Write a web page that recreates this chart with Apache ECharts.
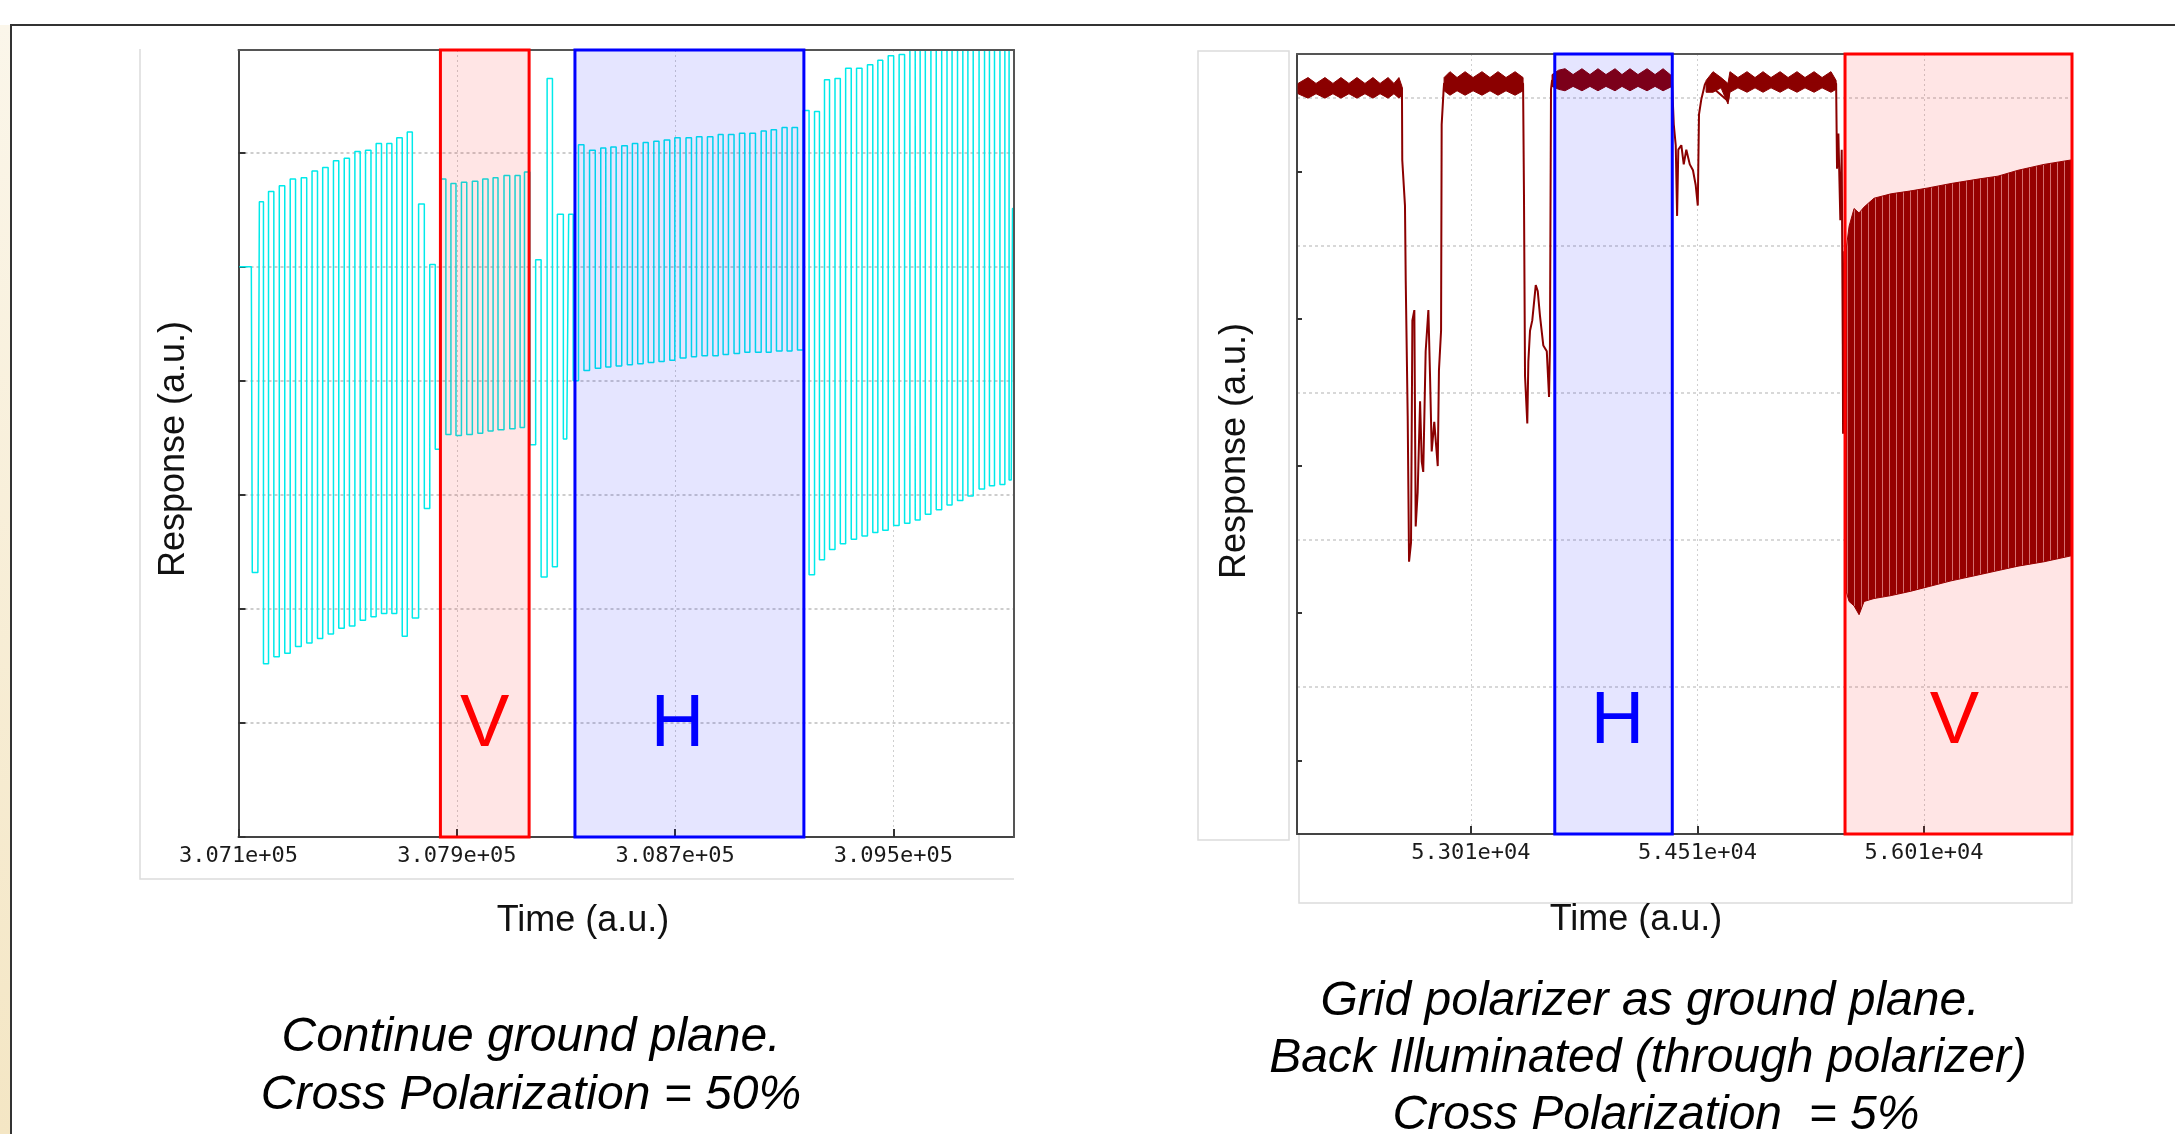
<!DOCTYPE html>
<html>
<head>
<meta charset="utf-8">
<title>Cross polarization response</title>
<script src="https://cdn.jsdelivr.net/npm/echarts@6/dist/echarts.min.js"></script>
<style>
  html, body { margin: 0; padding: 0; background: #fff; }
  #chart { width: 2175px; height: 1134px; }
</style>
</head>
<body>
<div id="chart"></div>
<script>
// ---- left panel: continue ground plane (turning points of the cyan trace)
const cyanTime = [
  307103, 307147, 307154, 307171, 307182, 307201, 307219, 307240, 307259, 307280,
  307299, 307319, 307341, 307359, 307380, 307399, 307418, 307439, 307457, 307478,
  307497, 307516, 307537, 307555, 307576, 307595, 307614, 307634, 307653, 307671,
  307689, 307711, 307726, 307748, 307772, 307790, 307812, 307830, 307850, 307870,
  307887, 307907, 307927, 307946, 307968, 307986, 308004, 308025, 308041, 308061,
  308085, 308103, 308124, 308140, 308156, 308180, 308198, 308220, 308242, 308259,
  308278, 308303, 308317, 308336, 308356, 308376, 308397, 308418, 308437, 308455,
  308474, 308494, 308515, 308535, 308552, 308574, 308592, 308611, 308633, 308649,
  308671, 308690, 308708, 308729, 308751, 308769, 308788, 308809, 308828, 308849,
  308867, 308885, 308906, 308926, 308946, 308965, 308983, 309006, 309025, 309043,
  309061, 309082, 309102, 309119, 309138, 309159, 309180, 309202, 309220, 309238,
  309257, 309275, 309297, 309314, 309336, 309355, 309375, 309395, 309415, 309434,
  309452, 309470, 309492, 309510, 309532, 309550, 309571, 309589, 309607, 309627,
  309648, 309666, 309688, 309705, 309725, 309745, 309764, 309782, 309803, 309825,
  309843, 309861, 309880, 309901, 309916, 309932, 309941
];
const cyanResp = [
  5.00, 5.00, 2.32, 2.32, 5.57, 1.52, 5.66, 1.58, 5.71, 1.61,
  5.77, 1.67, 5.78, 1.70, 5.84, 1.74, 5.87, 1.78, 5.93, 1.83,
  5.95, 1.85, 6.01, 1.90, 6.02, 1.93, 6.08, 1.96, 6.08, 1.96,
  6.13, 1.76, 6.18, 1.92, 5.55, 2.88, 5.02, 3.40, 5.77, 3.53,
  5.73, 3.52, 5.74, 3.53, 5.75, 3.54, 5.77, 3.56, 5.78, 3.57,
  5.80, 3.58, 5.80, 3.59, 5.83, 3.44, 5.06, 2.28, 6.65, 2.37,
  5.46, 3.49, 5.46, 4.00, 6.07, 4.09, 6.02, 4.11, 6.04, 4.12,
  6.05, 4.13, 6.06, 4.14, 6.08, 4.15, 6.09, 4.16, 6.10, 4.17,
  6.11, 4.18, 6.13, 4.20, 6.13, 4.21, 6.14, 4.22, 6.14, 4.22,
  6.16, 4.23, 6.16, 4.24, 6.17, 4.25, 6.17, 4.25, 6.19, 4.25,
  6.20, 4.26, 6.22, 4.26, 6.22, 4.27, 6.37, 2.30, 6.36, 2.43,
  6.64, 2.52, 6.65, 2.57, 6.74, 2.61, 6.74, 2.64, 6.77, 2.67,
  6.81, 2.69, 6.85, 2.73, 6.86, 2.75, 7.00, 2.78, 7.00, 2.83,
  7.05, 2.87, 7.05, 2.91, 7.10, 2.95, 7.10, 2.99, 7.10, 3.05,
  7.15, 3.08, 7.15, 3.09, 7.15, 3.13, 5.51
];
const leftTickValues = [307100, 307900, 308700, 309500];
const leftTickLabels = ['3.071e+05', '3.079e+05', '3.087e+05', '3.095e+05'];
const leftBandV = [307840, 308165];
const leftBandH = [308333, 309172];

// ---- right panel: grid polarizer as ground plane (thin trace)
const redTime = [
  51865, 52553, 52555, 52573, 52578, 52591, 52600, 52613, 52622, 52635,
  52644, 52657, 52673, 52684, 52694, 52710, 52728, 52739, 52750, 52767,
  52790, 52798, 52812, 52816, 52829, 52832, 53355, 53361, 53368, 53383,
  53390, 53401, 53416, 53439, 53452, 53467, 53489, 53512, 53527, 53533,
  53540, 53547, 54341, 54353, 54366, 54375, 54383, 54403, 54419, 54436,
  54459, 54480, 54498, 54512, 54520, 54535, 54558, 54567, 54712, 54725,
  55428, 55434, 55443, 55456, 55465, 55472, 55474, 55483, 55494
];
const redResp = [
  5.07, 5.07, 4.58, 4.27, 3.76, 2.84, 1.85, 1.98, 3.49, 3.56,
  2.09, 2.32, 2.94, 2.53, 2.46, 3.28, 3.56, 3.11, 2.60, 2.80,
  2.50, 3.15, 3.42, 4.82, 5.06, 5.10, 5.10, 4.34, 3.11, 2.79,
  3.21, 3.42, 3.49, 3.73, 3.69, 3.52, 3.32, 3.28, 2.97, 3.32,
  5.06, 5.12, 5.12, 4.82, 4.68, 4.20, 4.65, 4.68, 4.55, 4.65,
  4.55, 4.51, 4.41, 4.27, 4.89, 4.99, 5.09, 5.11, 4.98, 5.11,
  5.10, 4.52, 4.76, 4.17, 4.65, 3.33, 2.72, 3.96, 3.00
];
// dense oscillation envelopes (upper / lower) of the right trace
const band1T = [51865, 51931, 51984, 52043, 52096, 52149, 52202, 52255, 52308, 52361, 52408, 52461, 52500, 52533, 52553];
const band1Hi = [5.10, 5.14, 5.10, 5.14, 5.10, 5.14, 5.10, 5.14, 5.10, 5.14, 5.10, 5.14, 5.10, 5.14, 5.08];
const band1Lo = [5.03, 5.00, 5.03, 5.00, 5.03, 5.00, 5.03, 5.00, 5.03, 5.00, 5.03, 5.00, 5.03, 5.00, 5.02];
const band2T = [52832, 52871, 52918, 52971, 53024, 53083, 53136, 53189, 53242, 53302, 53355];
const band2Hi = [5.14, 5.18, 5.14, 5.18, 5.14, 5.18, 5.14, 5.18, 5.14, 5.18, 5.14];
const band2Lo = [5.05, 5.02, 5.05, 5.02, 5.05, 5.02, 5.05, 5.02, 5.05, 5.02, 5.05];
const band3T = [53547, 53590, 53633, 53686, 53745, 53798, 53851, 53904, 53964, 54010, 54063, 54116, 54176, 54229, 54282, 54341];
const band3Hi = [5.16, 5.19, 5.20, 5.16, 5.20, 5.16, 5.20, 5.16, 5.20, 5.16, 5.20, 5.16, 5.20, 5.16, 5.20, 5.15];
const band3Lo = [5.08, 5.06, 5.05, 5.08, 5.05, 5.08, 5.05, 5.08, 5.05, 5.08, 5.05, 5.08, 5.05, 5.08, 5.05, 5.08];
const band4T = [54567, 54613, 54666, 54712, 54725, 54778, 54838, 54891, 54944, 54997, 55057, 55110, 55169, 55222, 55282, 55335, 55394, 55428];
const band4Hi = [5.12, 5.18, 5.14, 5.10, 5.18, 5.14, 5.18, 5.14, 5.18, 5.14, 5.18, 5.14, 5.18, 5.14, 5.18, 5.14, 5.18, 5.12];
const band4Lo = [5.04, 5.04, 5.07, 4.96, 5.04, 5.07, 5.04, 5.07, 5.04, 5.07, 5.04, 5.07, 5.04, 5.07, 5.04, 5.07, 5.04, 5.06];
const band5T = [55494, 55514, 55547, 55580, 55613, 55679, 55792, 55924, 56037, 56189, 56368, 56500, 56633, 56805, 56984];
const band5Hi = [3.97, 4.13, 4.25, 4.22, 4.26, 4.32, 4.35, 4.37, 4.39, 4.42, 4.45, 4.47, 4.51, 4.55, 4.58];
const band5Lo = [1.65, 1.58, 1.55, 1.49, 1.58, 1.60, 1.62, 1.65, 1.68, 1.72, 1.76, 1.79, 1.82, 1.85, 1.89];
const rightTickValues = [53010, 54510, 56010];
const rightTickLabels = ['5.301e+04', '5.451e+04', '5.601e+04'];
const rightBandH = [53565, 54343];
const rightBandV = [55487, 56990];

const sans = 'Liberation Sans, Arial, sans-serif';
const mono = 'DejaVu Sans Mono, monospace';
const bands = [
  [band1T, band1Hi, band1Lo], [band2T, band2Hi, band2Lo], [band3T, band3Hi, band3Lo],
  [band4T, band4Hi, band4Lo], [band5T, band5Hi, band5Lo]
];

// thin light streaks inside the wide V-region envelope
const streak = document.createElement('canvas');
streak.width = 7;
streak.height = 4;
const sg = streak.getContext('2d');
sg.fillStyle = '#8b0000';
sg.fillRect(0, 0, 7, 4);
sg.fillStyle = 'rgba(255,205,205,0.6)';
sg.fillRect(6, 0, 1, 4);

function pairs(xs, ys) {
  return xs.map((x, i) => [x, ys[i]]);
}

function band(range, stroke, fill, letter, offset) {
  return [
    {
      xAxis: range[0],
      itemStyle: { color: fill, borderColor: stroke, borderWidth: 3 },
      label: {
        show: true, position: 'insideBottom', distance: 76, offset: offset || [0, 0],
        formatter: letter, color: stroke, fontSize: 74, fontFamily: sans
      }
    },
    { xAxis: range[1] }
  ];
}

function xAxisCfg(grid, min, max, ticks, labels) {
  return {
    type: 'value', gridIndex: grid, min: min, max: max,
    axisLine: { lineStyle: { color: '#444', width: 2 } },
    axisTick: { customValues: ticks, inside: true, length: 8, lineStyle: { color: '#333', width: 2 } },
    axisLabel: {
      customValues: ticks, margin: 8, fontFamily: mono, fontSize: 22, color: '#1a1a1a',
      formatter: (v) => labels[ticks.indexOf(v)] || ''
    },
    splitLine: { show: true, lineStyle: { color: '#cfcfcf', type: [2, 3], width: 1 } }
  };
}

// plain border axes on top / right of each plot
function borderAxis(grid, pos, min, max) {
  return {
    type: 'value', gridIndex: grid, position: pos, min: min, max: max, z: 4,
    axisLine: { onZero: false, lineStyle: { color: '#555', width: 2 } },
    axisTick: { show: false }, axisLabel: { show: false }, splitLine: { show: false }
  };
}

const captionStyle = { fontSize: 48, fontStyle: 'italic', fontFamily: sans, fill: '#000', align: 'center', verticalAlign: 'middle', textAlign: 'center', textVerticalAlign: 'middle' };
const nameStyle = { fontSize: 36, fontFamily: sans, fill: '#111', align: 'center', verticalAlign: 'middle', textAlign: 'center', textVerticalAlign: 'middle' };

const chart = echarts.init(document.getElementById('chart'));
chart.setOption({
  animation: false,
  backgroundColor: '#fff',
  grid: [
    { left: 238.5, top: 50, width: 775.5, height: 787 },
    { left: 1297, top: 54, width: 775, height: 780 }
  ],
  xAxis: [
    xAxisCfg(0, 307100, 309942, leftTickValues, leftTickLabels),
    xAxisCfg(1, 51858, 56990, rightTickValues, rightTickLabels),
    borderAxis(0, 'top', 307100, 309942),
    borderAxis(1, 'top', 51858, 56990)
  ],
  yAxis: [
    {
      type: 'value', gridIndex: 0, min: 0, max: 6.9, interval: 1,
      axisLine: { lineStyle: { color: '#444', width: 2 } },
      axisTick: { inside: true, length: 7, lineStyle: { color: '#333', width: 2 } },
      axisLabel: { show: false },
      splitLine: { lineStyle: { color: '#bdbdbd', type: [3, 3], width: 1.5 } }
    },
    {
      type: 'value', gridIndex: 1, min: 0, max: 5.3, interval: 1,
      axisLine: { lineStyle: { color: '#444', width: 2 } },
      axisTick: { show: false, inside: true },
      minorTick: { show: true, splitNumber: 2, length: 5, lineStyle: { color: '#333', width: 2 } },
      axisLabel: { show: false },
      splitLine: { lineStyle: { color: '#cccccc', type: [3, 3], width: 1.5 } }
    },
    borderAxis(0, 'right', 0, 6.9),
    borderAxis(1, 'right', 0, 5.3)
  ],
  series: [
    {
      type: 'line', xAxisIndex: 0, yAxisIndex: 0, symbol: 'none', step: 'middle',
      lineStyle: { color: '#00eaea', width: 1.5 },
      data: pairs(cyanTime, cyanResp),
      markArea: {
        silent: true, z: 5,
        data: [
          band(leftBandV, '#ff0000', 'rgba(255,0,0,0.1)', 'V'),
          band(leftBandH, '#0000ff', 'rgba(0,0,255,0.1)', 'H', [-12, 0])
        ]
      }
    },
    {
      type: 'line', xAxisIndex: 1, yAxisIndex: 1, symbol: 'none',
      lineStyle: { color: '#8b0000', width: 2 },
      data: pairs(redTime, redResp),
      markArea: {
        silent: true, z: 5,
        data: [
          band(rightBandH, '#0000ff', 'rgba(0,0,255,0.1)', 'H', [4, 0]),
          band(rightBandV, '#ff0000', 'rgba(255,0,0,0.1)', 'V', [-4, 0])
        ]
      }
    },
    {
      // filled envelopes where the trace oscillates too fast to resolve
      type: 'custom', xAxisIndex: 1, yAxisIndex: 1, silent: true, z: 3,
      data: bands.map((b, i) => [b[0][0], b[1][0], i]),
      encode: { x: 0, y: 1 },
      renderItem: (params, api) => {
        const b = bands[params.dataIndex];
        const top = b[0].map((t, j) => api.coord([t, b[1][j]]));
        const bottom = b[0].map((t, j) => api.coord([t, b[2][j]])).reverse();
        const wide = params.dataIndex === bands.length - 1;
        return {
          type: 'polygon',
          shape: { points: top.concat(bottom) },
          style: {
            fill: wide ? { image: streak, repeat: 'repeat' } : '#8b0000',
            stroke: '#8b0000', lineWidth: 1
          }
        };
      }
    }
  ],
  graphic: [
    {
      type: 'rect', z: 0, silent: true, shape: { x: 0, y: 25, width: 11, height: 1109 },
      style: {
        fill: { type: 'linear', x: 0, y: 0, x2: 0, y2: 1,
          colorStops: [{ offset: 0, color: '#fbf6ea' }, { offset: 1, color: '#f4e6c4' }] }
      }
    },
    { type: 'polyline', z: 1, silent: true, shape: { points: [[2175, 25], [11, 25], [11, 1134]] },
      style: { stroke: '#333', lineWidth: 2, fill: null } },
    { type: 'polyline', z: 0, silent: true, shape: { points: [[140, 49], [140, 879], [1014, 879]] },
      style: { stroke: '#dcdcdc', lineWidth: 1.5, fill: null } },
    { type: 'rect', z: 0, silent: true, shape: { x: 1198, y: 51, width: 91, height: 789 },
      style: { stroke: '#dcdcdc', lineWidth: 1.5, fill: null } },
    { type: 'rect', z: 0, silent: true, shape: { x: 1299, y: 834, width: 773, height: 69 },
      style: { stroke: '#dcdcdc', lineWidth: 1.5, fill: null } },
    { type: 'text', x: 174, y: 449, rotation: Math.PI / 2, style: Object.assign({ text: 'Response (a.u.)' }, nameStyle) },
    { type: 'text', x: 1235, y: 451, rotation: Math.PI / 2, style: Object.assign({ text: 'Response (a.u.)' }, nameStyle) },
    { type: 'text', x: 583, y: 921, style: Object.assign({ text: 'Time (a.u.)' }, nameStyle) },
    { type: 'text', x: 1636, y: 920, style: Object.assign({ text: 'Time (a.u.)' }, nameStyle) },
    { type: 'text', x: 531, y: 1038, style: Object.assign({ text: 'Continue ground plane.' }, captionStyle) },
    { type: 'text', x: 531, y: 1096, style: Object.assign({ text: 'Cross Polarization = 50%' }, captionStyle) },
    { type: 'text', x: 1650, y: 1002, style: Object.assign({ text: 'Grid polarizer as ground plane.' }, captionStyle) },
    { type: 'text', x: 1648, y: 1059, style: Object.assign({ text: 'Back Illuminated (through polarizer)' }, captionStyle) },
    { type: 'text', x: 1656, y: 1116, style: Object.assign({ text: 'Cross Polarization  = 5%' }, captionStyle) }
  ]
});
</script>
</body>
</html>
